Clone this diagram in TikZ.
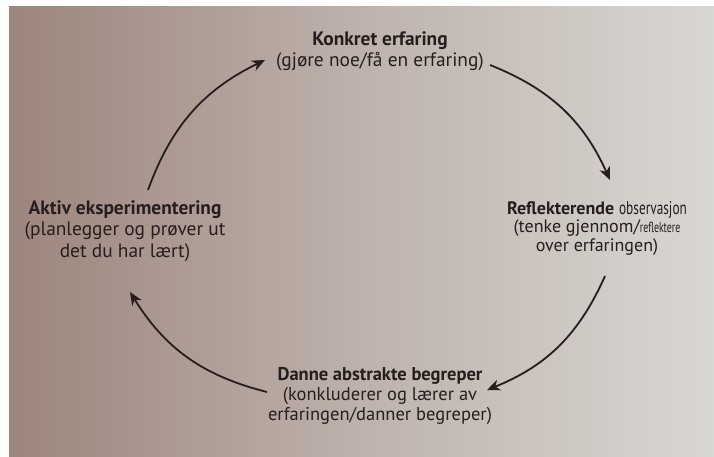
\documentclass[tikz,border=0pt]{standalone}
\usepackage[dvipsnames, svgnames]{xcolor}
\usepackage{fontspec}
\setmainfont{PT Sans}
\usepackage{tikz}
\usetikzlibrary{arrows.meta, positioning}

\definecolor{paperleft}{RGB}{156,133,124}
\definecolor{papermid}{RGB}{190,178,172}
\definecolor{paperright}{RGB}{217,215,211}
\definecolor{ink}{RGB}{38,30,30}

% narrow set words
\newcommand{\narrowword}[3]{{\fontsize{#1}{18}\selectfont\scalebox{#2}[1]{#3}}}

\begin{document}
\begin{tikzpicture}[x=1pt, y=1pt,
  stage/.style={align=center, text=ink, font=\fontsize{19.4}{21.5}\selectfont},
  cycle/.style={draw=ink, line width=1.8pt, -{Stealth[length=13pt, width=11pt, inset=4pt]}, bend left=22}]
  % paper background (photo of a page)
  \fill[white] (0,0) rectangle (714,457);
  \shade[left color=paperleft, right color=paperright, middle color=papermid] (9,0) rectangle (714,450);
  \useasboundingbox (0,0) rectangle (714,457);

  % the four stages
  \node[stage] (konkret) at (380,406)
    {\textbf{Konkret erfaring}\\(gjøre noe/få en erfaring)};
  \node[stage, font=\fontsize{18}{18.5}\selectfont] (reflekt) at (597,229)
    {\textbf{Reflekterende} \narrowword{18.5}{0.72}{observasjon}\\(tenke gjennom/\narrowword{14.5}{0.68}{reflektere}\\over erfaringen)};
  \node[stage, font=\fontsize{18.5}{20}\selectfont] (abstrakt) at (380,61)
    {\textbf{Danne abstrakte begreper}\\(konkluderer og lærer av\\erfaringen/danner begreper)};
  \node[stage] (aktiv) at (125,226)
    {\textbf{Aktiv eksperimentering}\\(planlegger og prøver ut\\det du har lært)};

  % arrow ends
  \coordinate (a1s) at (148,267);
  \coordinate (a1e) at (265,397);
  \coordinate (a2s) at (490,392);
  \coordinate (a2e) at (610,277);
  \coordinate (a3s) at (605,181);
  \coordinate (a3e) at (487,67);
  \coordinate (a4s) at (267,65);
  \coordinate (a4e) at (130,165);

  % the cycle
  \draw[cycle] (a1s) to (a1e);
  \draw[cycle] (a2s) to (a2e);
  \draw[cycle] (a3s) to (a3e);
  \draw[cycle] (a4s) to (a4e);
\end{tikzpicture}
\end{document}
